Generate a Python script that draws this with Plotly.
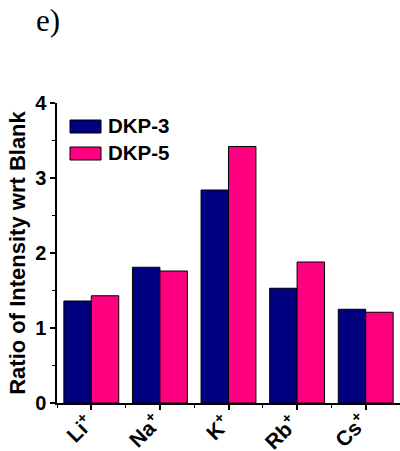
import plotly.graph_objects as go

# Relative emission intensity versus blank for each alkali metal ion
ions = ["Li<sup>+</sup>", "Na<sup>+</sup>", "K<sup>+</sup>", "Rb<sup>+</sup>", "Cs<sup>+</sup>"]
dkp3 = [1.36, 1.81, 2.84, 1.53, 1.25]
dkp5 = [1.43, 1.76, 3.42, 1.88, 1.21]
series_names = ["DKP-3", "DKP-5"]
series_colors = ["#000080", "#FF0080"]

W, H = 400, 451
ML, MR, MT, MB = 57, 0, 103, 48
plot_w = W - ML - MR
plot_h = H - MT - MB

SANS = "Liberation Sans, Arial"
xpos = list(range(len(ions)))

fig = go.Figure()
for name, vals, col in zip(series_names, [dkp3, dkp5], series_colors):
    fig.add_trace(go.Bar(
        x=xpos, y=vals, name=name,
        marker=dict(color=col, line=dict(color="black", width=1)),
        showlegend=False,
    ))

axis_common = dict(
    showline=True, linecolor="black", linewidth=1.5,
    ticks="outside", ticklen=5, tickwidth=1.5, tickcolor="black",
    showgrid=False, zeroline=False, automargin=False,
)

fig.update_xaxes(
    **axis_common,
    range=[-0.5, len(ions) - 0.5],
    tickmode="array", tickvals=xpos, showticklabels=False,
    minor=dict(ticks="outside", ticklen=3, tickwidth=1.2, tickcolor="black",
               tick0=0.5, dtick=1, showgrid=False),
)
fig.update_yaxes(
    **axis_common,
    range=[0, 4], dtick=1,
    tickfont=dict(family=SANS, size=20, color="black", weight="bold"),
    minor=dict(ticks="outside", ticklen=3, tickwidth=1.2, tickcolor="black",
               dtick=0.5, showgrid=False),
    title=dict(text="Ratio of Intensity wrt Blank", standoff=3,
               font=dict(family=SANS, size=22, color="black", weight="bold")),
)

def px_x(px):
    return (px - ML) / plot_w

def px_y(py):
    return (H - MB - py) / plot_h

shapes = []
annotations = []

# Slanted category labels hanging from the x ticks
for i, lab in zip(xpos, ions):
    annotations.append(dict(xref="x", yref="paper", x=i, y=px_y(406), xshift=9,
                            text=lab, textangle=-45, showarrow=False,
                            xanchor="right", yanchor="top",
                            font=dict(family=SANS, size=21, color="black", weight="bold")))

# Legend drawn as swatches and labels inside the plot area
for i, (name, col) in enumerate(zip(series_names, series_colors)):
    top = 120 + i * 27
    shapes.append(dict(type="rect", xref="paper", yref="paper",
                       x0=px_x(70), x1=px_x(101), y0=px_y(top + 13), y1=px_y(top),
                       fillcolor=col, line=dict(color="black", width=1)))
    annotations.append(dict(xref="paper", yref="paper", x=px_x(106), y=px_y(top + 5.5),
                            text=name, showarrow=False, xanchor="left", yanchor="middle",
                            font=dict(family=SANS, size=20.5, color="black", weight="bold")))

annotations.append(dict(xref="paper", yref="paper", x=px_x(34), y=px_y(40),
                        text="e)", showarrow=False, xanchor="left", yanchor="bottom",
                        font=dict(family="Liberation Serif, Times New Roman", size=31,
                                  color="black")))

fig.update_layout(
    width=W, height=H,
    margin=dict(l=ML, r=MR, t=MT, b=MB),
    paper_bgcolor="white", plot_bgcolor="white",
    barmode="group", bargap=0.2, bargroupgap=0,
    shapes=shapes, annotations=annotations,
)

fig.write_html("out.html")
